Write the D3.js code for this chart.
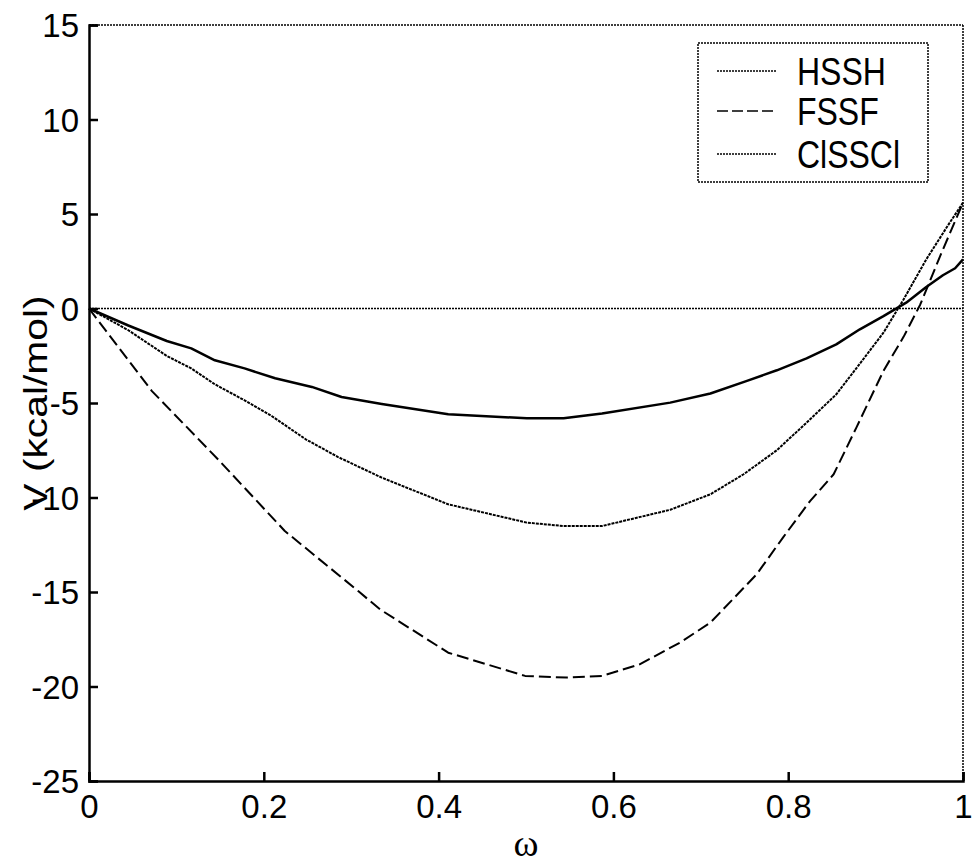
<!DOCTYPE html>
<html><head><meta charset="utf-8">
<script src="https://cdn.jsdelivr.net/npm/d3@7"></script>
<style>body{margin:0;background:#fff}svg{display:block}</style>
</head><body>
<svg id="c" width="973" height="864"></svg>
<script>
// ---- data ----
const hsshW = [0,0.045,0.089,0.117,0.144,0.178,0.213,0.255,0.289,0.335,0.411,0.501,0.543,0.587,0.665,0.711,0.752,0.787,0.821,0.855,0.882,0.909,0.935,0.958,0.977,0.991,1.0];
const hsshV = [0,-0.9,-1.72,-2.11,-2.74,-3.17,-3.69,-4.15,-4.68,-5.05,-5.6,-5.81,-5.81,-5.56,-4.98,-4.5,-3.84,-3.27,-2.64,-1.9,-1.1,-0.4,0.31,1.14,1.76,2.13,2.6];
const fssfW = [0,0.072,0.148,0.224,0.308,0.333,0.411,0.499,0.546,0.587,0.630,0.676,0.711,0.764,0.794,0.825,0.852,0.878,0.909,0.932,0.951,0.975,1.0];
const fssfV = [0,-4.37,-8.0,-11.77,-14.95,-15.92,-18.21,-19.44,-19.53,-19.44,-18.83,-17.68,-16.62,-14.06,-12.12,-10.19,-8.77,-6.3,-3.3,-1.5,0.2,2.9,5.6];
const clW = [0,0.045,0.089,0.117,0.144,0.178,0.209,0.248,0.285,0.335,0.411,0.501,0.543,0.587,0.665,0.711,0.749,0.787,0.821,0.855,0.882,0.909,0.932,0.958,0.981,1.0];
const clV = [0,-1.15,-2.51,-3.17,-4.01,-4.86,-5.69,-6.92,-7.86,-8.95,-10.36,-11.33,-11.51,-11.51,-10.65,-9.83,-8.77,-7.5,-6.04,-4.54,-2.92,-1.28,0.48,2.6,4.27,5.6];
const xTicks = [0,0.2,0.4,0.6,0.8,1];
const yTicks = [-25,-20,-15,-10,-5,0,5,10,15];
const seriesNames = ["HSSH","FSSF","ClSSCl"];

const svg = d3.select("#c");
const L=89, R=963, T=25, B=781;
const x = d3.scaleLinear().domain([0,1]).range([L,R]);
const y = d3.scaleLinear().domain([-25,15]).range([B,T]);
const font = "Arial, 'Liberation Sans', sans-serif";

// zero line
svg.append("line").attr("x1",L).attr("x2",R).attr("y1",y(0)).attr("y2",y(0))
  .attr("stroke","#000").attr("stroke-width",1.5).attr("stroke-dasharray","2,1");
// top & right border dotted
svg.append("line").attr("x1",L).attr("x2",R).attr("y1",T).attr("y2",T)
  .attr("stroke","#000").attr("stroke-width",1.5).attr("stroke-dasharray","2,1");
svg.append("line").attr("x1",R).attr("x2",R).attr("y1",T).attr("y2",B)
  .attr("stroke","#000").attr("stroke-width",1.5).attr("stroke-dasharray","2,1");

// axes
const fmt = d => String(d).replace("\u2212","-");
const xa = svg.append("g").attr("transform",`translate(0,${B})`)
  .call(d3.axisBottom(x).tickValues(xTicks).tickSize(-9).tickPadding(14).tickFormat(fmt));
const ya = svg.append("g").attr("transform",`translate(${L},0)`)
  .call(d3.axisLeft(y).tickValues(yTicks).tickSize(-9).tickPadding(10).tickFormat(fmt));
[xa,ya].forEach(g=>{
  g.select(".domain").attr("stroke","#000").attr("stroke-width",2.5);
  g.selectAll(".tick line").attr("stroke","#000").attr("stroke-width",2.5);
  g.selectAll(".tick text").attr("font-family",font).attr("font-size",33).attr("fill","#000");
});
xa.selectAll(".tick text").attr("dy","0.71em");
ya.selectAll(".tick text").attr("dy","0.36em");

// labels
svg.append("text").attr("x",x(0.5)).attr("y",856).attr("text-anchor","middle")
  .attr("font-family","'Liberation Serif', 'Times New Roman', serif").attr("font-size",38).text("ω");
svg.append("text").attr("transform",`translate(47,${(T+B)/2}) rotate(-90) scale(1.2,1)`).attr("text-anchor","middle")
  .attr("font-family",font).attr("font-size",34).text("V  (kcal/mol)");

// lines
const line = d3.line().x(d=>x(d[0])).y(d=>y(d[1]));
const series = [
  {name:seriesNames[0], w:hsshW, v:hsshV, width:2.5, dash:null},
  {name:seriesNames[1], w:fssfW, v:fssfV, width:2, dash:"12,5"},
  {name:seriesNames[2], w:clW, v:clV, width:2, dash:"3,1"}
];
series.forEach(s=>{
  svg.append("path").datum(d3.zip(s.w,s.v)).attr("d",line)
    .attr("fill","none").attr("stroke","#000").attr("stroke-width",s.width)
    .attr("stroke-dasharray",s.dash).attr("stroke-linejoin","round");
});

// legend
const lg = svg.append("g");
lg.append("rect").attr("x",698).attr("y",43).attr("width",230).attr("height",139)
  .attr("fill","#fff").attr("stroke","#000").attr("stroke-width",1.5).attr("stroke-dasharray","2,1");
const rows=[71,111,154];
const legDash=["2,1","11,4","2,1"];
seriesNames.forEach((n,i)=>{
  lg.append("line").attr("x1",717).attr("x2",777).attr("y1",rows[i]).attr("y2",rows[i])
    .attr("stroke","#000").attr("stroke-width",1.6).attr("stroke-dasharray",legDash[i]);
  lg.append("text").attr("transform",`translate(797,${rows[i]}) scale(1,1.2)`).attr("dy","0.36em")
    .attr("font-family",font).attr("font-size",32).text(n);
});
</script>
</body></html>
